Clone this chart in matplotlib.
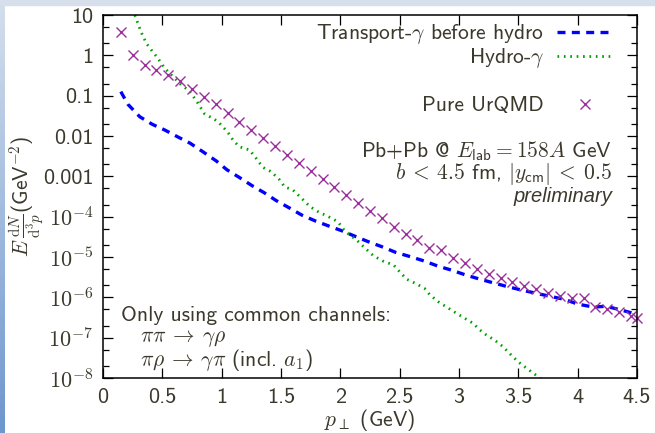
import numpy as np
import matplotlib.pyplot as plt
from matplotlib.colors import LinearSegmentedColormap
from matplotlib.patches import Rectangle

# pure UrQMD photons (crosses)
urqmd_pt = [0.15, 0.25, 0.35, 0.45, 0.55, 0.65, 0.75, 0.85, 0.95, 1.05,
            1.15, 1.25, 1.35, 1.45, 1.55, 1.65, 1.75, 1.85, 1.95, 2.05,
            2.15, 2.25, 2.35, 2.45, 2.55, 2.65, 2.75, 2.85, 2.95, 3.05,
            3.15, 3.25, 3.35, 3.45, 3.55, 3.65, 3.75, 3.85, 3.95, 4.05,
            4.15, 4.25, 4.35, 4.45, 4.5]
urqmd_y = [3.7, 1.0, 0.58, 0.43, 0.33, 0.23, 0.146, 0.094, 0.061, 0.038,
           0.0226, 0.0141, 0.0088, 0.0058, 0.0034, 0.0021, 0.00136, 8.4e-4, 5.3e-4, 3.4e-4,
           2.2e-4, 1.38e-4, 9.1e-5, 5.6e-5, 3.66e-5, 2.64e-5, 1.7e-5, 1.47e-5, 9.3e-6, 6.9e-6,
           4.96e-6, 3.72e-6, 2.96e-6, 2.44e-6, 1.9e-6, 1.61e-6, 1.3e-6, 1.1e-6, 9.8e-7, 9.8e-7,
           5.7e-7, 5.2e-7, 4.4e-7, 3.4e-7, 3.0e-7]

# transport photons before hydro
trans_pt = [0.15, 0.21, 0.31, 0.415, 0.52, 0.63, 0.735, 0.84, 0.955, 1.045,
            1.146, 1.255, 1.36, 1.46, 1.575, 1.674, 1.786, 1.9, 2.01, 2.12,
            2.235, 2.35, 2.47, 2.59, 2.71, 2.825, 2.94, 3.06, 3.18, 3.3,
            3.415, 3.53, 3.65, 3.78, 3.89, 4.0, 4.13, 4.24, 4.36, 4.47]
trans_y = [0.126, 0.061, 0.030, 0.0195, 0.0141, 0.0095, 0.0066, 0.0041, 0.0024, 0.00145,
           9.5e-4, 5.9e-4, 3.9e-4, 2.5e-4, 1.62e-4, 1.1e-4, 7.9e-5, 5.9e-5, 4.5e-5, 3.3e-5,
           2.4e-5, 1.8e-5, 1.29e-5, 1.02e-5, 7.9e-6, 5.9e-6, 4.7e-6, 3.55e-6, 2.8e-6, 2.24e-6,
           1.82e-6, 1.51e-6, 1.26e-6, 1.04e-6, 8.9e-7, 6.8e-7, 5.75e-7, 6.0e-7, 4.9e-7, 4.0e-7]

# hydro photons
hydro_pt = [0.25, 0.32, 0.365, 0.407, 0.463, 0.52, 0.59, 0.66, 0.73, 0.8,
            0.857, 0.92, 0.97, 1.05, 1.1, 1.15, 1.236, 1.29, 1.348, 1.418,
            1.49, 1.53, 1.6, 1.674, 1.744, 1.814, 1.9, 1.98, 2.04, 2.14,
            2.21, 2.28, 2.36, 2.45, 2.5, 2.56, 2.63, 2.71, 2.755, 2.825,
            2.91, 2.98, 3.05, 3.12, 3.176, 3.23, 3.3, 3.37, 3.44, 3.5,
            3.57, 3.65, 3.7]
hydro_y = [14.0, 3.85, 1.99, 1.36, 0.84, 0.48, 0.295, 0.184, 0.130, 0.065,
           0.035, 0.028, 0.0226, 0.0126, 0.0076, 0.0054, 0.0045, 0.0028, 0.00166, 0.0013,
           8.1e-4, 5.5e-4, 4.6e-4, 2.85e-4, 1.78e-4, 1.32e-4, 1.0e-4, 7.5e-5, 4.3e-5, 2.6e-5,
           1.64e-5, 1.07e-5, 7.9e-6, 6.3e-6, 4.3e-6, 2.8e-6, 2.24e-6, 1.66e-6, 1.15e-6, 7.8e-7,
           5.4e-7, 4.0e-7, 3.0e-7, 2.26e-7, 1.55e-7, 1.17e-7, 8.7e-8, 6.0e-8, 3.7e-8, 2.5e-8,
           1.74e-8, 1.17e-8, 8.9e-9]

x_ticks = [0, 0.5, 1, 1.5, 2, 2.5, 3, 3.5, 4, 4.5]
x_tick_labels = ['0', '0.5', '1', '1.5', '2', '2.5', '3', '3.5', '4', '4.5']
y_ticks = [1e-8, 1e-7, 1e-6, 1e-5, 1e-4, 1e-3, 1e-2, 1e-1, 1, 10]
y_tick_labels = [r'$\mathsf{10^{-8}}$', r'$\mathsf{10^{-7}}$', r'$\mathsf{10^{-6}}$',
                 r'$\mathsf{10^{-5}}$', r'$\mathsf{10^{-4}}$', '0.001', '0.01', '0.1', '1', '10']

plt.rcParams['font.family'] = 'cmss10'
plt.rcParams['mathtext.fontset'] = 'cm'
plt.rcParams['font.size'] = 15.5
plt.rcParams['axes.linewidth'] = 1.1

txt = '#3b382c'

fig = plt.figure(figsize=(6.55, 4.33), dpi=100)
fig.patch.set_facecolor('white')

# slide background: top strip and left gradient
fig.patches.append(Rectangle((0, 1 - 5/433), 1, 5/433, transform=fig.transFigure,
                             color='#d6e0ec', zorder=0))
grad = fig.add_axes([0, 0, 5/655, 1 - 5/433])
grad.imshow(np.linspace(0, 1, 100)[:, None], aspect='auto',
            cmap=LinearSegmentedColormap.from_list('slide', ['#d3deec', '#6e97cf']))
grad.axis('off')

ax = fig.add_axes([103/655, 55/433, 534/655, 363/433])

h_tr, = ax.plot(trans_pt, trans_y, color='#0000ff', lw=2.4, ls=(0, (2.4, 1.9)),
                label=r'Transport-$\gamma$ before hydro')
h_hy, = ax.plot(hydro_pt, hydro_y, color='#00a000', lw=2.0, ls=(0, (0.6, 1.7)),
                label=r'Hydro-$\gamma$')
h_ur, = ax.plot(urqmd_pt, urqmd_y, ls='none', marker='x', ms=7.5, mew=1.0,
                color='#9b2f9b', label='Pure UrQMD', clip_on=False)

ax.set_yscale('log')
ax.set_xlim(0, 4.5)
ax.set_ylim(1e-8, 10)
ax.set_xticks(x_ticks)
ax.set_xticklabels(x_tick_labels)
ax.set_yticks(y_ticks)
ax.set_yticklabels(y_tick_labels)
ax.set_yticks([m * d for d in y_ticks[:-1] for m in (2, 5)], minor=True)
ax.set_yticklabels([], minor=True)

ax.tick_params(which='both', direction='in', top=True, right=True, colors='black',
               labelcolor=txt, labelsize=16)
ax.tick_params(which='major', length=7, width=0.9, pad=7)
ax.tick_params(which='minor', length=4, width=0.9)

ax.set_xlabel(r'$p_\perp$ (GeV)', color=txt)
ax.set_ylabel(r'$E\,\frac{\mathrm{d}N}{\mathrm{d}^3p}$(GeV$^{\mathsf{-2}}$)', color=txt)
ax.xaxis.set_label_coords(0.5, -0.08)
ax.yaxis.set_label_coords(-0.106, 0.5)

leg1 = ax.legend(handles=[h_tr, h_hy], loc='upper right', bbox_to_anchor=(0.955, 0.98),
                 markerfirst=False, frameon=False, borderpad=0, borderaxespad=0,
                 handlelength=2.6, handletextpad=0.6, labelspacing=0.0,
                 labelcolor=txt, fontsize=15.5)
ax.add_artist(leg1)
ax.legend(handles=[h_ur], loc='center right', bbox_to_anchor=(0.955, 0.75),
          markerfirst=False, frameon=False, borderpad=0, borderaxespad=0,
          handlelength=2.6, handletextpad=0.6, labelcolor=txt, fontsize=15.5)

ax.text(0.953, 0.609, r'Pb+Pb @ $E_{\mathsf{lab}} = \mathsf{158}A$ GeV', transform=ax.transAxes,
        ha='right', va='baseline', color=txt)
ax.text(0.953, 0.547, r'$b\:<\:\mathsf{4.5}$ fm, $|y_{\mathsf{cm}}|\:<\:\mathsf{0.5}$',
        transform=ax.transAxes, ha='right', va='baseline', color=txt)
ax.text(0.953, 0.486, 'preliminary', transform=ax.transAxes, ha='right', va='baseline',
        color=txt, family='Liberation Sans', style='italic', fontsize=14.5)

ax.text(0.034, 0.157, 'Only using common channels:', transform=ax.transAxes,
        va='baseline', color=txt)
ax.text(0.069, 0.1, r'$\pi\pi\:\rightarrow\:\gamma\rho$', transform=ax.transAxes,
        va='baseline', color=txt)
ax.text(0.069, 0.033, r'$\pi\rho\:\rightarrow\:\gamma\pi$ (incl. $a_{\mathsf{1}}$)',
        transform=ax.transAxes, va='baseline', color=txt)

plt.savefig('out.png', dpi=100)
